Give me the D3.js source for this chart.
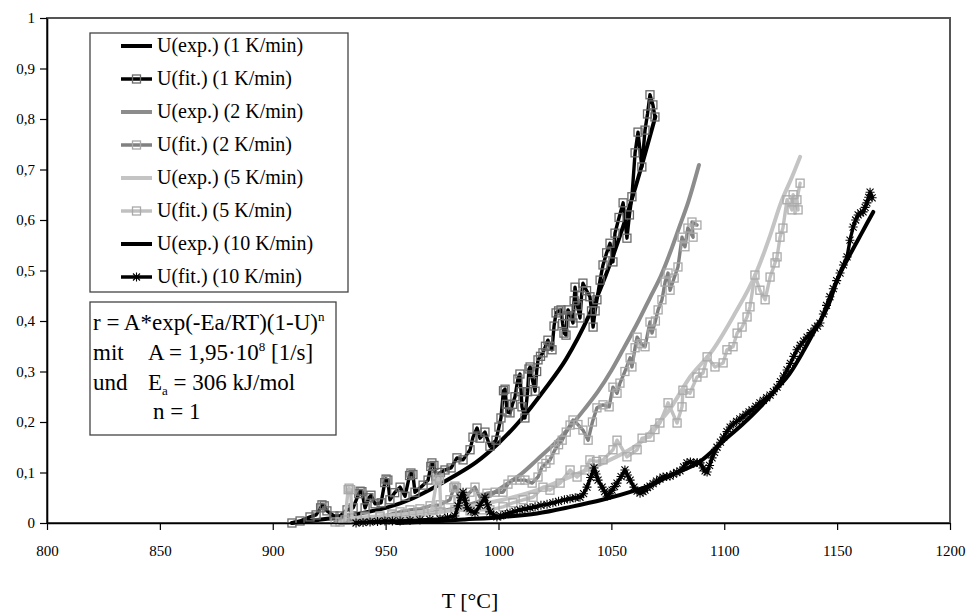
<!DOCTYPE html>
<html>
<head>
<meta charset="utf-8">
<script src="https://cdn.jsdelivr.net/npm/d3@7"></script>
<style>
  body { margin: 0; background: #fff; }
  svg text { font-family: "Liberation Serif", "DejaVu Serif", serif; fill: #000; }
</style>
</head>
<body>
<svg id="chart" width="969" height="614"></svg>
<script>
// Axis ticks
const xTicks = [800, 850, 900, 950, 1000, 1050, 1100, 1150, 1200];
const yTicks = [0, 0.1, 0.2, 0.3, 0.4, 0.5, 0.6, 0.7, 0.8, 0.9, 1];
const yTickLabels = ["0", "0,1", "0,2", "0,3", "0,4", "0,5", "0,6", "0,7", "0,8", "0,9", "1"];

// Conversion U vs. temperature T [°C] — pairs of [T, U]
const exp1 = [[908.5,0],[920,0.006],[930,0.012],[940,0.02],[950,0.03],[960,0.045],[970,0.067],[980,0.092],
  [990,0.12],[1000,0.158],[1010,0.205],[1020,0.262],[1030,0.325],[1040,0.41],[1050,0.52],[1060,0.655],[1069.5,0.805]];

const fit1 = [[908.5,0],[912.1,0.004],[916.5,0.012],[919.2,0.016],[921.2,0.03],[921.8,0.036],[922.8,0.034],[924,0.024],
  [927.1,0.014],[929.8,0.014],[932.9,0.026],[935.6,0.03],[938.1,0.058],[938.7,0.063],[939.5,0.062],[940.9,0.03],
  [942.6,0.05],[943.5,0.055],[945.3,0.038],[948,0.04],[949.6,0.08],[950.2,0.087],[951,0.085],[951.9,0.046],[954,0.06],
  [956.4,0.071],[958.6,0.053],[960.6,0.094],[961.2,0.099],[962.1,0.096],[963,0.061],[966.6,0.075],[968.8,0.085],
  [970,0.112],[970.5,0.119],[971.4,0.114],[972.3,0.093],[974.3,0.1],[976.3,0.105],[979,0.109],[981.6,0.129],
  [984.3,0.125],[987.4,0.145],[988.7,0.17],[990.5,0.188],[991.8,0.168],[994,0.18],[996.2,0.152],[998.9,0.164],
  [1000.2,0.19],[1001.1,0.208],[1002.2,0.262],[1002.9,0.265],[1003.5,0.235],[1003.8,0.22],[1005.1,0.218],[1006.2,0.235],
  [1007.3,0.25],[1008.6,0.285],[1009.5,0.295],[1010,0.26],[1010.4,0.23],[1011.7,0.208],[1012.9,0.26],[1013.5,0.305],
  [1014,0.309],[1015.2,0.28],[1016.2,0.261],[1016.9,0.3],[1017.5,0.323],[1018.6,0.33],[1019.7,0.337],[1020.8,0.35],
  [1021.9,0.362],[1022.8,0.35],[1023.7,0.343],[1024.6,0.39],[1025.5,0.416],[1026.6,0.42],[1027.7,0.422],[1028.4,0.395],
  [1029,0.376],[1029.9,0.372],[1030.3,0.41],[1030.8,0.422],[1031.9,0.41],[1033,0.396],[1033.5,0.44],[1033.9,0.467],
  [1035,0.43],[1036.1,0.406],[1036.8,0.45],[1037.4,0.475],[1039,0.46],[1040.5,0.448],[1041.2,0.42],[1041.9,0.388],
  [1042.8,0.42],[1043.6,0.442],[1045,0.481],[1046.3,0.511],[1047.9,0.535],[1049.4,0.554],[1050.7,0.517],[1051.6,0.574],
  [1053.4,0.605],[1055.2,0.634],[1056.9,0.564],[1058,0.61],[1059.1,0.646],[1060.5,0.733],[1061.8,0.774],[1063.5,0.705],
  [1064.9,0.778],[1066,0.81],[1067.1,0.848],[1068.4,0.828],[1069.3,0.804]];

const exp2 = [[930,0],[950,0.008],[970,0.02],[985,0.034],[993,0.046],[1002,0.072],[1010,0.097],[1017,0.125],
  [1025,0.158],[1032,0.192],[1038,0.225],[1044,0.26],[1050,0.302],[1055,0.342],[1062,0.4],[1067,0.445],[1072,0.49],
  [1076,0.535],[1080,0.585],[1084,0.635],[1088.8,0.709]];

const fit2 = [[927.6,0.002],[934.2,0.006],[940.9,0.01],[947.5,0.012],[952.8,0.018],[956.4,0.022],[960.8,0.026],
  [965.2,0.028],[969.7,0.034],[974.1,0.036],[978.5,0.046],[980.2,0.07],[980.7,0.073],[981.4,0.07],[982.5,0.046],
  [985.2,0.05],[987.4,0.061],[989.6,0.071],[991.8,0.051],[994.9,0.059],[998.5,0.061],[1002,0.061],[1004.2,0.077],
  [1006,0.085],[1009.5,0.085],[1011.7,0.085],[1014.9,0.079],[1017.5,0.091],[1019.3,0.111],[1021,0.118],[1022.8,0.125],
  [1025,0.145],[1026.6,0.155],[1028.2,0.164],[1030,0.18],[1031.7,0.194],[1033,0.204],[1035.2,0.195],[1037.4,0.184],
  [1039.7,0.164],[1041.6,0.2],[1043.6,0.228],[1046.3,0.234],[1049,0.23],[1050.7,0.269],[1052.5,0.257],[1053.8,0.277],
  [1056,0.3],[1058.3,0.327],[1059.1,0.309],[1060.5,0.347],[1061.4,0.368],[1063.2,0.355],[1064.9,0.349],[1067.1,0.398],
  [1068,0.376],[1069.5,0.4],[1070.7,0.422],[1072.4,0.442],[1073.8,0.477],[1075.1,0.495],[1076,0.461],[1077.8,0.485],
  [1079.5,0.507],[1081.3,0.566],[1082.6,0.547],[1083.9,0.584],[1086.2,0.566],[1085.7,0.596],[1087.9,0.59]];

const exp5 = [[935,0],[955,0.008],[975,0.022],[990,0.035],[1002,0.046],[1017,0.065],[1032,0.092],[1046,0.118],
  [1056,0.14],[1064,0.164],[1070,0.195],[1075,0.22],[1085,0.29],[1095,0.343],[1104,0.409],[1114,0.494],[1120,0.565],
  [1125,0.633],[1130,0.685],[1133.6,0.725]];

const fit5 = [[929.8,0.002],[932,0.006],[933.4,0.066],[933.8,0.069],[934.5,0.066],[935.1,0.01],[940.9,0.012],
  [947.5,0.014],[952.8,0.016],[958.6,0.018],[965.2,0.022],[970.5,0.026],[972.7,0.085],[973.2,0.089],[973.9,0.086],
  [974.5,0.022],[980.7,0.026],[987.4,0.024],[992.7,0.026],[996.2,0.026],[1002,0.032],[1006.4,0.04],[1010.9,0.046],
  [1015.3,0.051],[1019.7,0.071],[1022.8,0.065],[1027.3,0.079],[1031.7,0.105],[1034.8,0.091],[1038.3,0.105],
  [1040.5,0.125],[1043.4,0.122],[1046.3,0.125],[1050.7,0.145],[1052.5,0.164],[1056.9,0.131],[1061.4,0.145],
  [1063.6,0.168],[1067.1,0.17],[1069.3,0.185],[1071.5,0.198],[1075.1,0.238],[1079.1,0.198],[1081.3,0.23],[1081.7,0.263],
  [1084.8,0.257],[1087.9,0.289],[1090.6,0.297],[1092.4,0.329],[1095.9,0.309],[1099.5,0.317],[1101.2,0.343],[1103.9,0.349],
  [1105.7,0.376],[1107.9,0.388],[1110.1,0.408],[1111.4,0.428],[1113.6,0.491],[1115.8,0.461],[1118.1,0.442],[1120.3,0.487],
  [1122.5,0.515],[1123.4,0.527],[1124.7,0.566],[1126,0.584],[1127.8,0.64],[1130,0.62],[1130.5,0.65],[1132.7,0.62],
  [1132.2,0.64],[1133.6,0.673]];

const exp10 = [[955,0],[970,0.003],[985,0.007],[1002,0.012],[1017,0.019],[1032,0.032],[1046,0.046],[1061,0.065],
  [1067,0.074],[1076,0.094],[1089,0.121],[1100,0.164],[1108,0.195],[1116,0.23],[1122,0.26],[1129,0.296],[1135,0.34],
  [1141,0.389],[1146,0.43],[1150,0.481],[1156,0.534],[1161,0.575],[1166,0.616]];

const fit10 = [[936.9,0],[940,0.001],[943.1,0.002],[946.4,0.003],[949.7,0.004],[953,0.004],[956.4,0.004],[960.8,0.005],
  [965.2,0.006],[969.6,0.007],[974.1,0.008],[977.4,0.011],[980.7,0.014],[982.1,0.034],[983.2,0.05],[984.3,0.061],
  [985.2,0.045],[986.1,0.03],[987.8,0.024],[989.6,0.02],[991.8,0.035],[994,0.051],[995.1,0.036],[996.2,0.022],
  [997.8,0.016],[999.3,0.012],[1001,0.014],[1003,0.017],[1005.1,0.02],[1007.3,0.023],[1009.5,0.026],[1011.7,0.028],
  [1014,0.03],[1016.2,0.032],[1018.8,0.035],[1021.5,0.037],[1024.1,0.04],[1026.6,0.043],[1029.2,0.046],[1031.7,0.048],
  [1034,0.05],[1036.1,0.051],[1037.7,0.058],[1039.2,0.071],[1040.8,0.09],[1042.3,0.109],[1043.2,0.097],[1044.1,0.085],
  [1045.9,0.071],[1047,0.062],[1048.1,0.053],[1049.2,0.058],[1050.3,0.065],[1051.4,0.072],[1052.5,0.079],[1054.3,0.092],
  [1056,0.105],[1057.1,0.095],[1058.3,0.085],[1060,0.071],[1061.4,0.063],[1062.7,0.059],[1064,0.062],[1064.9,0.065],
  [1066,0.07],[1067.1,0.073],[1068.5,0.078],[1070,0.083],[1071.5,0.087],[1072.9,0.091],[1074.5,0.092],[1076,0.093],
  [1077.5,0.097],[1079,0.1],[1080.4,0.103],[1082,0.111],[1083.5,0.119],[1085,0.121],[1086.5,0.118],[1088,0.12],
  [1089.3,0.119],[1090.6,0.109],[1091.5,0.103],[1092.4,0.101],[1093.5,0.114],[1094.6,0.129],[1095.7,0.14],[1096.8,0.15],
  [1098.3,0.16],[1099.7,0.17],[1101.2,0.181],[1102.6,0.19],[1104,0.196],[1105.5,0.201],[1106.9,0.206],[1108.3,0.21],
  [1109.6,0.215],[1111,0.22],[1112.3,0.224],[1114,0.231],[1115.8,0.238],[1117.3,0.243],[1118.8,0.248],[1120.3,0.253],
  [1121.8,0.26],[1123.4,0.269],[1124.9,0.28],[1126.3,0.291],[1127.8,0.303],[1129.3,0.316],[1130.8,0.33],[1132.2,0.343],
  [1133.7,0.352],[1135.2,0.36],[1136.7,0.368],[1138.4,0.377],[1140.2,0.386],[1141.3,0.39],[1142.4,0.396],[1143.9,0.414],
  [1145.3,0.431],[1146.8,0.448],[1148.3,0.464],[1149.8,0.48],[1151.3,0.495],[1152.8,0.511],[1154.4,0.527],[1155.7,0.56],
  [1157.1,0.586],[1158.2,0.6],[1159.3,0.61],[1160.4,0.614],[1161.5,0.616],[1162.4,0.625],[1163.2,0.634],[1164,0.645],
  [1164.6,0.655],[1165.5,0.644]];

const seriesNames = ["U(exp.) (1 K/min)", "U(fit.) (1 K/min)", "U(exp.) (2 K/min)", "U(fit.) (2 K/min)",
                     "U(exp.) (5 K/min)", "U(fit.) (5 K/min)", "U(exp.) (10 K/min)", "U(fit.) (10 K/min)"];
const seriesData = [exp1, fit1, exp2, fit2, exp5, fit5, exp10, fit10];

// Styling per series
const styles = [
  { color: "#000",    width: 4,   smooth: true,  marker: null },
  { color: "#000",    width: 3.4, smooth: false, marker: "square", mstroke: "#6a6a6a" },
  { color: "#8c8c8c", width: 4,   smooth: true,  marker: null },
  { color: "#808080", width: 3.4, smooth: false, marker: "square", mstroke: "#a8a8a8" },
  { color: "#c4c4c4", width: 4,   smooth: true,  marker: null },
  { color: "#c0c0c0", width: 3.4, smooth: false, marker: "square", mstroke: "#a9a9a9" },
  { color: "#000",    width: 4,   smooth: true,  marker: null },
  { color: "#000",    width: 3.4, smooth: false, marker: "star" }
];

const svg = d3.select("#chart");
const x = d3.scaleLinear().domain([800, 1200]).range([47, 950]);
const y = d3.scaleLinear().domain([0, 1]).range([523, 18]);

// Plot area frame
svg.append("rect")
  .attr("x", x(800)).attr("y", y(1))
  .attr("width", x(1200) - x(800)).attr("height", y(0) - y(1))
  .attr("fill", "#fff").attr("stroke", "#555").attr("stroke-width", 2);

// Series
const lineSmooth = d3.line().x(d => x(d[0])).y(d => y(d[1])).curve(d3.curveMonotoneX);
const lineRaw = d3.line().x(d => x(d[0])).y(d => y(d[1]));
const starPath = "M-3.5,-3.5L3.5,3.5M-3.5,3.5L3.5,-3.5M0,-4.5L0,4.5M-4.5,0L4.5,0";

function drawMarker(g, type, st, cx, cy) {
  if (type === "square") {
    g.append("rect").attr("x", cx - 4).attr("y", cy - 4).attr("width", 8).attr("height", 8)
      .attr("fill", "none").attr("stroke", st.mstroke).attr("stroke-width", 1.3);
  } else if (type === "star") {
    g.append("path").attr("d", starPath).attr("transform", `translate(${cx},${cy})`)
      .attr("fill", "none").attr("stroke", "#000").attr("stroke-width", 1.1);
  }
}

const plot = svg.append("g");
seriesData.forEach((data, i) => {
  const st = styles[i];
  const g = plot.append("g");
  g.append("path").datum(data)
    .attr("d", st.smooth ? lineSmooth : lineRaw)
    .attr("fill", "none").attr("stroke", st.color).attr("stroke-width", st.width)
    .attr("stroke-linejoin", "round").attr("stroke-linecap", "round");
  if (st.marker) data.forEach(d => drawMarker(g, st.marker, st, x(d[0]), y(d[1])));
});

// Axes
const yAxis = d3.axisLeft(y).tickValues(yTicks).tickFormat((d, i) => yTickLabels[i])
  .tickSize(7).tickSizeOuter(0).tickPadding(5);
const xAxis = d3.axisBottom(x).tickValues(xTicks).tickFormat(d => String(d))
  .tickSize(7).tickSizeOuter(0).tickPadding(15);

const gy = svg.append("g").attr("transform", `translate(${x(800)},0)`).call(yAxis);
const gx = svg.append("g").attr("transform", `translate(0,${y(0)})`).call(xAxis);
[gx, gy].forEach(g => {
  g.select(".domain").attr("stroke", "#000").attr("stroke-width", 1.6);
  g.selectAll(".tick line").attr("stroke", "#000").attr("stroke-width", 1.2);
  g.selectAll(".tick text").attr("font-size", 15).attr("font-family", "Liberation Serif, serif");
});

// Axis title
svg.append("text").attr("x", 470).attr("y", 608).attr("text-anchor", "middle")
  .attr("font-size", 22).text("T [°C]");

// Legend
const legend = svg.append("g");
legend.append("rect").attr("x", 90).attr("y", 33).attr("width", 258).attr("height", 259)
  .attr("fill", "#fff").attr("stroke", "#444").attr("stroke-width", 1.3);
seriesNames.forEach((name, i) => {
  const st = styles[i];
  const cy = 46 + i * 33;
  legend.append("line").attr("x1", 121).attr("x2", 152).attr("y1", cy).attr("y2", cy)
    .attr("stroke", st.color).attr("stroke-width", st.smooth ? 4 : 3.5);
  if (st.marker) drawMarker(legend, st.marker, st, 136.5, cy);
  legend.append("text").attr("x", 157).attr("y", cy + 6).attr("font-size", 20).text(name);
});

// Kinetic model annotation
const note = svg.append("g");
note.append("rect").attr("x", 90).attr("y", 302).attr("width", 246).attr("height", 133)
  .attr("fill", "#fff").attr("stroke", "#444").attr("stroke-width", 1.3);
const t1 = note.append("text").attr("x", 93).attr("y", 330).attr("font-size", 23);
t1.append("tspan").text("r = A*exp(-Ea/RT)(1-U)");
t1.append("tspan").attr("font-size", 13).attr("dy", -9).text("n");

const t2 = note.append("text").attr("y", 360).attr("font-size", 23);
t2.append("tspan").attr("x", 93).text("mit");
t2.append("tspan").attr("x", 148).text("A  = 1,95·10");
t2.append("tspan").attr("font-size", 13).attr("dy", -9).text("8");
t2.append("tspan").attr("dy", 9).text("  [1/s]");

const t3 = note.append("text").attr("y", 390).attr("font-size", 23);
t3.append("tspan").attr("x", 93).text("und");
t3.append("tspan").attr("x", 148).text("E");
t3.append("tspan").attr("font-size", 13).attr("dy", 5).text("a");
t3.append("tspan").attr("dy", -5).text(" = 306 kJ/mol");

note.append("text").attr("x", 153).attr("y", 419).attr("font-size", 23).text("n  = 1");
</script>
</body>
</html>
